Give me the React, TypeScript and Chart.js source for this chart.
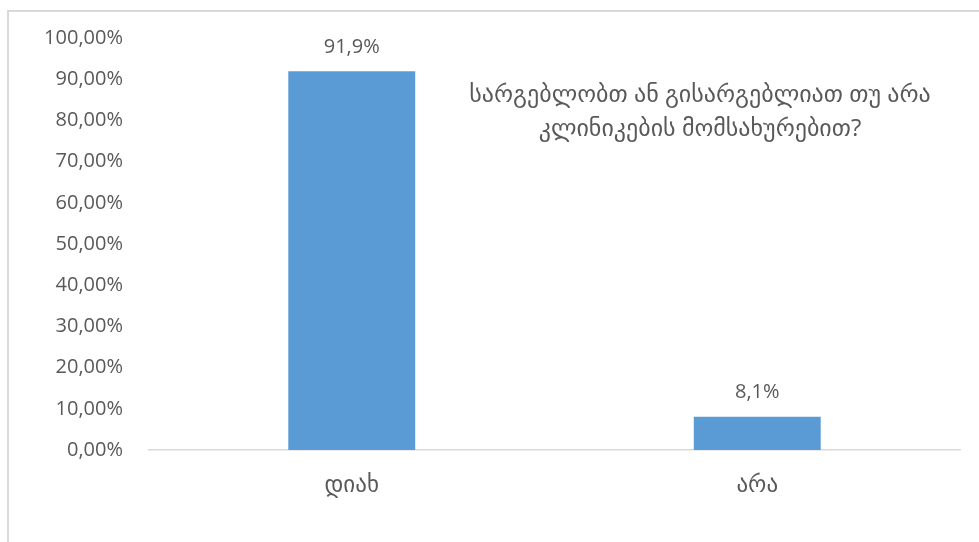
import React, { useEffect, useRef } from 'react';
import { Chart, registerables } from 'chart.js';

Chart.register(...registerables);

const categories: string[] = ['დიახ', 'არა'];
const values: number[] = [91.9, 8.1];
const valueLabels: string[] = ['91,9%', '8,1%'];
const titleLines: string[] = ['სარგებლობთ ან გისარგებლიათ თუ არა', 'კლინიკების მომსახურებით?'];
const yMin = 0;
const yMax = 100;
const yStep = 10;

const FONT = "'Open Sans', 'DejaVu Sans', sans-serif";
const TEXT = '#595959';

const valueLabelPlugin = {
  id: 'valueLabels',
  afterDatasetsDraw(chart: any) {
    const ctx = chart.ctx;
    const meta = chart.getDatasetMeta(0);
    ctx.save();
    ctx.font = `20px ${FONT}`;
    ctx.fillStyle = TEXT;
    ctx.textAlign = 'center';
    ctx.textBaseline = 'middle';
    meta.data.forEach((bar: any, i: number) => {
      ctx.fillText(valueLabels[i], bar.x, bar.y - 24);
    });
    ctx.restore();
  },
};

const innerTitlePlugin = {
  id: 'innerTitle',
  afterDraw(chart: any) {
    const ctx = chart.ctx;
    const area = chart.chartArea;
    ctx.save();
    ctx.font = `24px ${FONT}`;
    ctx.fillStyle = TEXT;
    ctx.textAlign = 'center';
    ctx.textBaseline = 'middle';
    const cx = area.right - 260;
    titleLines.forEach((line, i) => {
      ctx.fillText(line, cx, area.top + 57 + i * 34);
    });
    ctx.restore();
  },
};

export default function App() {
  const ref = useRef<HTMLCanvasElement>(null);

  useEffect(() => {
    if (!ref.current) return;
    const chart = new Chart(ref.current, {
      type: 'bar',
      data: {
        labels: categories,
        datasets: [
          {
            data: values,
            backgroundColor: '#5B9BD5',
            borderWidth: 0,
            barPercentage: 0.313,
            categoryPercentage: 1,
          },
        ],
      },
      options: {
        animation: false,
        responsive: false,
        maintainAspectRatio: false,
        layout: { padding: { top: 36, right: 19, bottom: 0, left: 0 } },
        plugins: {
          legend: { display: false },
          tooltip: { enabled: false },
          title: { display: false },
        },
        scales: {
          x: {
            grid: { display: false, drawTicks: false },
            border: { display: true, color: '#D9D9D9', width: 1.5 },
            ticks: {
              color: TEXT,
              font: { family: FONT, size: 23 },
              padding: 22,
            },
            afterFit(scale: any) {
              scale.height = 92;
            },
          },
          y: {
            min: yMin,
            max: yMax,
            grid: { display: false, drawTicks: false },
            border: { display: false },
            ticks: {
              stepSize: yStep,
              color: TEXT,
              font: { family: FONT, size: 20 },
              padding: 26,
              callback: (v: any) => Number(v).toFixed(2).replace('.', ',') + '%',
            },
            afterFit(scale: any) {
              scale.width = 149;
            },
          },
        },
      },
      plugins: [valueLabelPlugin, innerTitlePlugin],
    });
    return () => chart.destroy();
  }, []);

  return (
    <div style={{ position: 'fixed', left: 0, top: 0, width: 979, height: 542, background: '#fff', overflow: 'hidden' }}>
      <div
        style={{
          position: 'absolute',
          left: 7,
          top: 10,
          width: 1100,
          height: 700,
          borderTop: '2px solid #D9D9D9',
          borderLeft: '2px solid #D9D9D9',
          boxSizing: 'border-box',
        }}
      />
      <canvas ref={ref} width={979} height={542} style={{ position: 'absolute', left: 0, top: 0 }} />
    </div>
  );
}
